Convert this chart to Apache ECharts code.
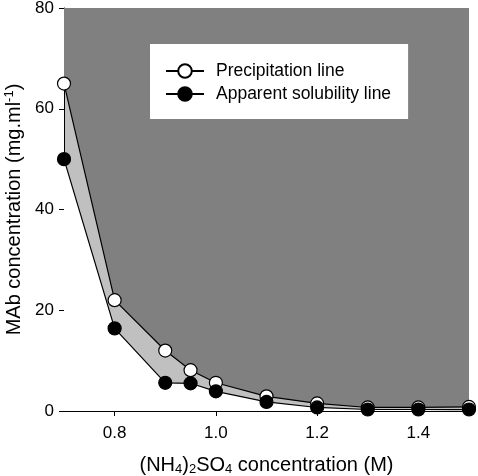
<!DOCTYPE html>
<html>
<head>
<meta charset="utf-8">
<script src="https://cdn.jsdelivr.net/npm/echarts@6/dist/echarts.min.js"></script>
<style>html,body{margin:0;padding:0;background:#fff}#c{width:478px;height:476px}</style>
</head>
<body>
<div id="c"></div>
<script>
var concentrations = [0.7, 0.8, 0.9, 0.95, 1.0, 1.1, 1.2, 1.3, 1.4, 1.5];
var precipitation = [65, 22, 12, 8.1, 5.6, 2.9, 1.5, 0.7, 0.7, 0.8];
var solubility = [50, 16.4, 5.6, 5.5, 3.9, 1.8, 0.7, 0.3, 0.3, 0.3];
var xTicks = [0.8, 1.0, 1.2, 1.4];
var yTicks = [0, 20, 40, 60, 80];

function pairs(ys) { return concentrations.map(function (x, i) { return [x, ys[i]]; }); }

var font = 'Liberation Sans, Arial, sans-serif';
var chart = echarts.init(document.getElementById('c'));
chart.setOption({
  animation: false,
  backgroundColor: '#fff',
  grid: { left: 64, right: 9, top: 8, bottom: 65, containLabel: false, outerBoundsMode: 'none',
    show: true, backgroundColor: '#c0c0c0', borderWidth: 0 },
  legend: {
    left: 150, top: 44, orient: 'vertical',
    backgroundColor: '#fff', borderWidth: 0,
    padding: [17, 17, 15, 15],
    itemWidth: 38, itemHeight: 17, itemGap: 3,
    data: ['Precipitation line', 'Apparent solubility line'],
    textStyle: { fontFamily: font, fontSize: 17.5, lineHeight: 20, color: '#000', padding: [0, 0, 0, 7] }
  },
  xAxis: {
    type: 'value', min: 0.7, max: 1.5,
    name: '{a|(NH}{b|4}{a|)}{b|2}{a|SO}{b|4}{a| concentration (M)}',
    nameLocation: 'middle', nameGap: 43,
    nameTextStyle: { rich: {
      a: { fontFamily: font, fontSize: 20, color: '#000' },
      b: { fontFamily: font, fontSize: 13, color: '#000', padding: [9, 0, 0, 0] }
    } },
    axisLine: { show: true, onZero: false, lineStyle: { color: '#000', width: 1 } },
    axisTick: { show: true, inside: false, length: 5, customValues: xTicks, lineStyle: { color: '#000' } },
    axisLabel: { customValues: xTicks, margin: 14, fontFamily: font, fontSize: 17, color: '#000',
      formatter: function (v) { return v.toFixed(1); } },
    splitLine: { show: false }
  },
  yAxis: {
    type: 'value', min: 0, max: 80, interval: 20,
    name: '{a|MAb concentration (mg.ml}{s|-1}{a|)}',
    nameLocation: 'middle', nameGap: 33,
    nameTextStyle: { rich: {
      a: { fontFamily: font, fontSize: 20, color: '#000' },
      s: { fontFamily: font, fontSize: 13, color: '#000', padding: [0, 0, 9, 0] }
    } },
    axisLine: { show: true, lineStyle: { color: '#000', width: 1 } },
    axisTick: { show: true, inside: false, length: 5, lineStyle: { color: '#000' } },
    axisLabel: { margin: 10, fontFamily: font, fontSize: 17, color: '#000' },
    splitLine: { show: false }
  },
  series: [
    { type: 'line', name: 'bgTop', data: pairs(precipitation), symbol: 'none', z: 1,
      lineStyle: { width: 0 }, areaStyle: { origin: 'end', color: '#808080', opacity: 1 }, silent: true },
    { type: 'line', name: 'bgBottom', data: pairs(solubility), symbol: 'none', z: 1,
      lineStyle: { width: 0 }, areaStyle: { origin: 'start', color: '#ffffff', opacity: 1 }, silent: true },
    { type: 'line', name: 'Precipitation line', data: pairs(precipitation), z: 3, clip: false,
      symbol: 'circle', symbolSize: 13,
      itemStyle: { color: '#fff', borderColor: '#000', borderWidth: 1.2 },
      lineStyle: { color: '#000', width: 1.2 } },
    { type: 'line', name: 'Apparent solubility line', data: pairs(solubility), z: 4, clip: false,
      symbol: 'circle', symbolSize: 13,
      itemStyle: { color: '#000', borderColor: '#000', borderWidth: 1.2 },
      lineStyle: { color: '#000', width: 1.2 } }
  ]
});
</script>
</body>
</html>
